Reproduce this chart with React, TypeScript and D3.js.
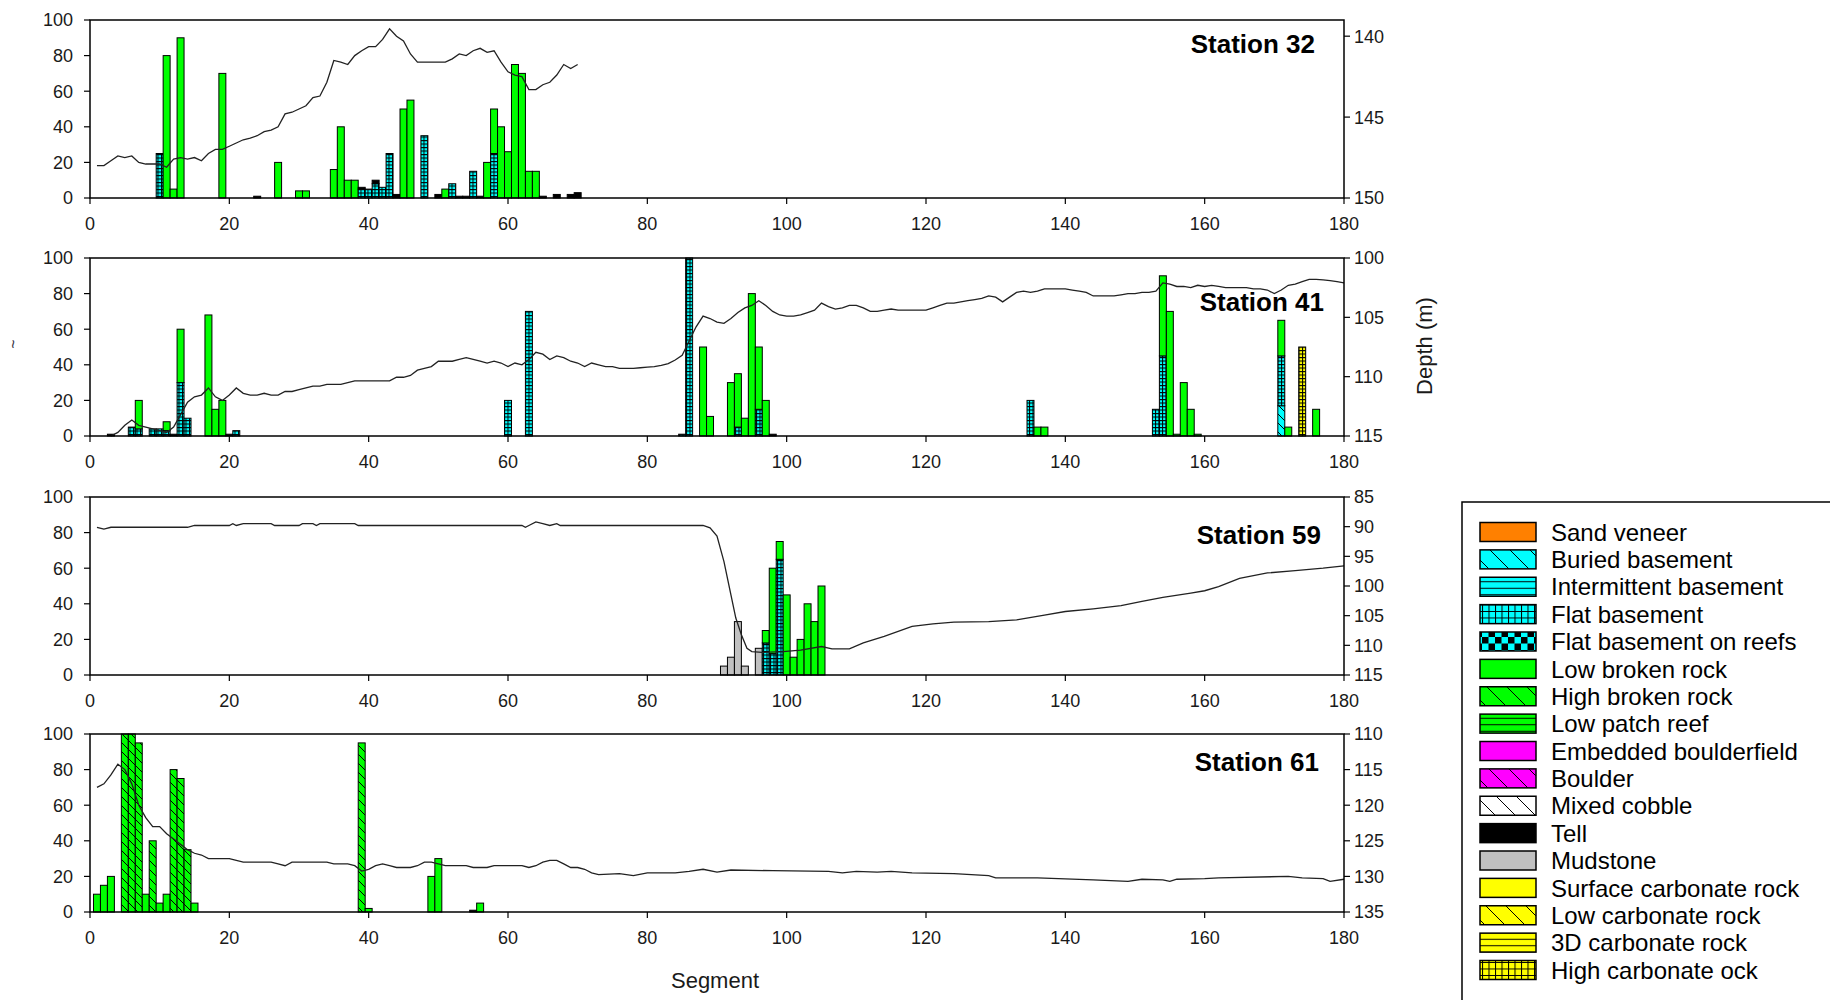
import React from 'react';
import * as d3 from 'd3';

// ---------- DATA ----------
const categoryNames = [
  'Sand veneer', 'Buried basement', 'Intermittent basement', 'Flat basement',
  'Flat basement on reefs', 'Low broken rock', 'High broken rock', 'Low patch reef',
  'Embedded boulderfield', 'Boulder', 'Mixed cobble', 'Tell', 'Mudstone',
  'Surface carbonate rock', 'Low carbonate rock', '3D carbonate rock', 'High carbonate ock',
];
const categoryKeys = [
  'sand', 'buried', 'intermit', 'flat', 'flatReef', 'lbr', 'hbr', 'lpr',
  'emb', 'boulder', 'cobble', 'tell', 'mud', 'scr', 'lcr', 'c3d', 'hcr',
];

const segmentTicks = [0, 20, 40, 60, 80, 100, 120, 140, 160, 180];
const percentTicks = [0, 20, 40, 60, 80, 100];

type Bar = [number, string, number];
type Pt = [number, number];

const st32Bars: Bar[] = [
  [10, 'flat', 25], [11, 'lbr', 80], [12, 'lbr', 5], [13, 'lbr', 90], [19, 'lbr', 70],
  [24, 'tell', 1], [27, 'lbr', 20], [30, 'lbr', 4], [31, 'lbr', 4], [35, 'lbr', 16],
  [36, 'lbr', 40], [37, 'lbr', 10], [38, 'lbr', 10], [39, 'flat', 5], [39, 'tell', 1],
  [40, 'flat', 5], [41, 'flat', 8], [41, 'tell', 2], [42, 'flat', 6], [43, 'flat', 25],
  [44, 'tell', 2], [45, 'lbr', 50], [46, 'lbr', 55], [48, 'flat', 35], [50, 'tell', 2],
  [51, 'lbr', 5], [52, 'flat', 8], [53, 'tell', 1], [54, 'tell', 1], [55, 'flat', 15],
  [56, 'tell', 1], [57, 'lbr', 20], [58, 'flat', 25], [58, 'lbr', 25], [59, 'lbr', 40],
  [60, 'lbr', 26], [61, 'lbr', 75], [62, 'lbr', 70], [63, 'lbr', 15], [64, 'lbr', 15],
  [65, 'tell', 1], [67, 'tell', 2], [69, 'tell', 2], [70, 'tell', 3],
];
const st32Depth: Pt[] = [
  [1, 148.0], [2, 148.0], [3, 147.7], [4, 147.4], [5, 147.5], [6, 147.4], [7, 147.8], [8, 147.9],
  [9, 147.9], [10, 147.9], [11, 148.1], [12, 147.6], [13, 147.5], [14, 147.6], [15, 147.5],
  [16, 147.7], [17, 147.25], [18, 147.0], [19, 147.0], [20, 146.8], [21, 146.6], [22, 146.4],
  [23, 146.3], [24, 146.15], [25, 145.9], [26, 145.8], [27, 145.6], [28, 144.8], [29, 144.7],
  [30, 144.5], [31, 144.3], [32, 143.8], [33, 143.7], [34, 142.85], [35, 141.5], [36, 141.6],
  [37, 141.75], [38, 141.2], [39, 140.9], [40, 140.65], [41, 140.65], [42, 140.2], [43, 139.55],
  [44, 140.0], [45, 140.3], [46, 141.1], [47, 141.6], [48, 141.6], [49, 141.6], [50, 141.6],
  [51, 141.6], [52, 141.4], [53, 141.1], [54, 141.2], [55, 140.9], [56, 140.75], [57, 141.0],
  [58, 140.9], [59, 141.6], [60, 142.2], [61, 142.4], [62, 142.5], [63, 143.3], [64, 143.3],
  [65, 143.0], [66, 142.85], [67, 142.4], [68, 141.75], [69, 142.0], [70, 141.75],
];
const st32DepthTicks = [140, 145, 150];

const st41Bars: Bar[] = [
  [3, 'tell', 1], [6, 'flat', 5], [7, 'flat', 4], [7, 'lbr', 16], [9, 'flat', 4], [10, 'flat', 4],
  [11, 'flat', 3], [11, 'lbr', 5], [12, 'tell', 1], [13, 'flat', 30], [13, 'lbr', 30],
  [14, 'flat', 10], [17, 'lbr', 68], [18, 'lbr', 15], [19, 'lbr', 20], [20, 'tell', 1],
  [21, 'flat', 3], [60, 'flat', 20], [63, 'flat', 70], [85, 'flat', 1], [86, 'flat', 100],
  [88, 'lbr', 50], [89, 'lbr', 11], [92, 'lbr', 30], [93, 'flat', 5], [93, 'lbr', 30],
  [94, 'lbr', 10], [95, 'lbr', 80], [96, 'flat', 15], [96, 'lbr', 35], [97, 'lbr', 20],
  [98, 'tell', 1], [135, 'flat', 20], [136, 'lbr', 5], [137, 'lbr', 5], [153, 'flat', 15],
  [154, 'flat', 45], [154, 'lbr', 45], [155, 'lbr', 70], [156, 'lbr', 1], [157, 'lbr', 30],
  [158, 'lbr', 15], [159, 'lbr', 1], [171, 'buried', 17], [171, 'flat', 28], [171, 'lbr', 20],
  [172, 'lbr', 5], [174, 'hcr', 50], [176, 'lbr', 15],
];
const st41Depth: Pt[] = [
  [3, 115.0], [4, 114.7], [5, 114.1], [6, 113.65], [7, 114.1], [8, 114.25], [9, 114.4], [10, 114.55],
  [11, 114.7], [12, 114.25], [13, 113.2], [14, 112.15], [15, 111.7], [16, 111.55], [17, 110.95],
  [18, 111.7], [19, 112.0], [20, 111.55], [21, 110.95], [22, 111.4], [23, 111.55], [24, 111.55],
  [25, 111.4], [26, 111.55], [27, 111.55], [28, 111.25], [29, 111.25], [30, 111.1], [31, 110.95],
  [32, 110.8], [33, 110.8], [34, 110.65], [35, 110.65], [36, 110.65], [37, 110.5], [38, 110.35],
  [43, 110.35], [44, 110.05], [45, 110.05], [46, 109.9], [47, 109.45], [48, 109.3], [49, 109.15],
  [50, 108.7], [52, 108.7], [53, 108.55], [54, 108.4], [55, 108.55], [56, 108.7], [57, 108.85],
  [58, 108.7], [59, 108.85], [60, 109.15], [61, 108.85], [62, 109.0], [63, 108.55], [64, 107.95],
  [65, 108.1], [66, 108.55], [67, 108.25], [68, 108.4], [69, 108.7], [70, 108.85], [71, 109.15],
  [72, 108.85], [73, 109.0], [74, 109.15], [75, 109.15], [76, 109.3], [78, 109.3], [79, 109.25],
  [80, 109.2], [81, 109.15], [82, 109.05], [83, 108.9], [84, 108.6], [85, 108.2], [86, 107.0],
  [87, 105.8], [88, 104.9], [89, 105.1], [90, 105.4], [91, 105.5], [92, 105.1], [93, 104.6],
  [94, 104.2], [95, 104.0], [96, 103.6], [97, 104.0], [98, 104.5], [99, 104.8], [100, 104.9],
  [101, 104.9], [102, 104.8], [103, 104.6], [104, 104.4], [105, 103.8], [106, 104.1], [107, 104.3],
  [108, 104.2], [109, 104.0], [110, 104.0], [111, 104.2], [112, 104.5], [113, 104.5], [114, 104.4],
  [115, 104.3], [116, 104.4], [120, 104.4], [121, 104.2], [122, 104.0], [123, 103.8], [124, 103.8],
  [125, 103.7], [126, 103.6], [127, 103.5], [128, 103.4], [129, 103.2], [130, 103.3], [131, 103.7],
  [132, 103.3], [133, 102.9], [134, 102.8], [135, 102.9], [136, 102.8], [137, 102.6], [140, 102.6],
  [141, 102.7], [142, 102.8], [143, 102.9], [144, 103.2], [147, 103.2], [148, 103.1], [149, 103.0],
  [150, 103.0], [151, 102.9], [152, 102.9], [153, 102.8], [154, 102.1], [155, 102.2], [156, 102.4],
  [157, 102.4], [158, 102.5], [159, 102.3], [160, 102.4], [161, 102.3], [162, 102.4], [163, 102.5],
  [166, 102.5], [167, 102.6], [168, 102.6], [169, 102.7], [170, 103.0], [171, 102.7], [172, 102.3],
  [173, 102.2], [174, 102.0], [175, 101.8], [176, 101.8], [177, 101.85], [178, 101.9], [179, 102.0],
  [180, 102.1],
];
const st41DepthTicks = [100, 105, 110, 115];

const st59Bars: Bar[] = [
  [91, 'mud', 5], [92, 'mud', 10], [93, 'mud', 30], [94, 'mud', 5], [96, 'mud', 15],
  [97, 'flat', 18], [97, 'lbr', 7], [98, 'flat', 12], [98, 'lbr', 48], [99, 'flat', 65],
  [99, 'lbr', 10], [100, 'lbr', 45], [101, 'lbr', 10], [102, 'lbr', 20], [103, 'lbr', 40],
  [104, 'lbr', 30], [105, 'lbr', 50],
];
const st59Depth: Pt[] = [
  [1, 90.1], [2, 90.4], [3, 90.1], [14, 90.1], [15, 89.8], [20, 89.8], [20.5, 89.5], [21, 89.8],
  [22, 89.5], [26, 89.5], [26.5, 89.8], [30, 89.8], [30.5, 89.5], [32, 89.5], [32.5, 89.8],
  [33, 89.5], [38, 89.5], [38.5, 89.8], [62, 89.8], [62.5, 90.1], [63, 89.8], [64, 89.2],
  [65, 89.5], [66, 89.8], [67, 89.5], [67.5, 89.8], [88, 89.8], [89, 90.2], [90, 91.6],
  [91, 95.9], [92, 101.5], [92.7, 105.4], [93.5, 108.2], [94.3, 110.5], [95, 111.05],
  [96.5, 111.2], [99.5, 111.05], [102, 110.8], [105, 110.2], [106.5, 110.6], [109, 110.6],
  [111, 109.6], [114, 108.5], [118, 106.8], [121, 106.4], [124, 106.1], [129, 106.0],
  [133, 105.7], [137, 104.9], [140, 104.3], [144, 103.85], [148, 103.3], [151, 102.6],
  [154, 101.9], [158, 101.2], [160, 100.8], [162, 100.1], [165, 98.7], [169, 97.8],
  [173, 97.4], [177, 97.0], [180, 96.6],
];
const st59DepthTicks = [85, 90, 95, 100, 105, 110, 115];

const st61Bars: Bar[] = [
  [1, 'lbr', 10], [2, 'lbr', 15], [3, 'lbr', 20], [5, 'hbr', 100], [6, 'hbr', 100],
  [7, 'hbr', 95], [8, 'lbr', 10], [9, 'hbr', 40], [10, 'lbr', 5], [11, 'lbr', 10],
  [12, 'hbr', 80], [13, 'hbr', 75], [14, 'hbr', 35], [15, 'lbr', 5], [39, 'hbr', 95],
  [40, 'lbr', 2], [49, 'lbr', 20], [50, 'lbr', 30], [55, 'tell', 1], [56, 'lbr', 5],
];
const st61Depth: Pt[] = [
  [1, 117.5], [2, 117.0], [3, 115.75], [4, 114.25], [5, 115.0], [6, 117.0], [7, 120.0],
  [8, 121.75], [9, 123.0], [10, 123.0], [11, 124.0], [12, 124.75], [13, 125.5], [14, 126.25],
  [15, 126.75], [16, 127.0], [17, 127.5], [20, 127.5], [21, 127.75], [22, 128.0], [26, 128.0],
  [27, 128.25], [28, 128.5], [29, 128.0], [34, 128.0], [35, 128.25], [37, 128.25], [38, 128.5],
  [39, 129.25], [40, 129.0], [41, 128.5], [42, 128.25], [43, 128.5], [44, 128.75], [46, 128.75],
  [47, 128.5], [48, 128.0], [49, 128.0], [50, 128.25], [51, 128.5], [54, 128.5], [55, 128.75],
  [57, 128.75], [58, 128.5], [62, 128.5], [63, 128.75], [64, 128.5], [65, 128.0], [66, 127.75],
  [67, 127.75], [68, 128.25], [69, 128.75], [70, 128.75], [71, 129.0], [72, 129.5], [73, 129.75],
  [76, 129.6], [78, 129.9], [80, 129.5], [84, 129.5], [86, 129.3], [88, 129.0], [90, 129.4],
  [92, 129.1], [98, 129.2], [106, 129.3], [108, 129.5], [110, 129.3], [113, 129.4], [115, 129.3],
  [118, 129.5], [124, 129.6], [129, 129.9], [130, 130.2], [136, 130.2], [144, 130.5],
  [149, 130.7], [151, 130.4], [154, 130.5], [155, 130.7], [156, 130.4], [160, 130.3],
  [162, 130.2], [172, 130.0], [174, 130.2], [177, 130.3], [178, 130.7], [180, 130.4],
];
const st61DepthTicks = [110, 115, 120, 125, 130, 135];

const stations = [
  { name: 'Station 32', bars: st32Bars, depth: st32Depth, depthTicks: st32DepthTicks, depthDomain: [139, 150] },
  { name: 'Station 41', bars: st41Bars, depth: st41Depth, depthTicks: st41DepthTicks, depthDomain: [100, 115] },
  { name: 'Station 59', bars: st59Bars, depth: st59Depth, depthTicks: st59DepthTicks, depthDomain: [85, 115] },
  { name: 'Station 61', bars: st61Bars, depth: st61Depth, depthTicks: st61DepthTicks, depthDomain: [110, 135] },
];

// ---------- STYLE / LAYOUT ----------
const W = 1830;
const H = 1000;
const X0 = 90;
const X1 = 1344;
const panelTops = [20, 258, 497, 734];
const PH = 178;
const titlePos = [
  { x: 1315, dy: 33 }, { x: 1324, dy: 53 }, { x: 1321, dy: 47 }, { x: 1319, dy: 37 },
];
const FONT = "'Liberation Sans', Arial, sans-serif";

const catStyle: Record<string, { color: string; kind: string }> = {
  sand: { color: '#FF8000', kind: 'solid' },
  buried: { color: '#00FFFF', kind: 'diag' },
  intermit: { color: '#00FFFF', kind: 'hline' },
  flat: { color: '#00FFFF', kind: 'grid' },
  flatReef: { color: '#00FFFF', kind: 'checker' },
  lbr: { color: '#00FF00', kind: 'solid' },
  hbr: { color: '#00FF00', kind: 'diag' },
  lpr: { color: '#00FF00', kind: 'hline' },
  emb: { color: '#FF00FF', kind: 'solid' },
  boulder: { color: '#FF00FF', kind: 'diag' },
  cobble: { color: '#FFFFFF', kind: 'diag' },
  tell: { color: '#000000', kind: 'solid' },
  mud: { color: '#C0C0C0', kind: 'solid' },
  scr: { color: '#FFFF00', kind: 'solid' },
  lcr: { color: '#FFFF00', kind: 'diag' },
  c3d: { color: '#FFFF00', kind: 'hline' },
  hcr: { color: '#FFFF00', kind: 'grid' },
};

const sizes: Record<string, Record<string, number>> = {
  bar: { diag: 9, hline: 5, grid: 3.5, checker: 6 },
  leg: { diag: 20, hline: 6.5, grid: 6.5, checker: 13 },
};

function PatternDef({ id, color, kind, s }: { id: string; color: string; kind: string; s: number }) {
  const common = { stroke: '#000', strokeWidth: 1, fill: 'none' };
  let inner: React.ReactNode = null;
  if (kind === 'diag') {
    inner = <path d={`M0,0L${s},${s}M${-s / 2},${s / 2}L${s / 2},${(3 * s) / 2}M${s / 2},${-s / 2}L${(3 * s) / 2},${s / 2}`} {...common} />;
  } else if (kind === 'hline') {
    inner = <path d={`M0,${s / 2}H${s}`} {...common} />;
  } else if (kind === 'grid') {
    inner = <path d={`M0,0.5H${s}M0.5,0V${s}`} {...common} />;
  } else if (kind === 'checker') {
    inner = (
      <>
        <rect x={0} y={0} width={s / 2} height={s / 2} fill="#000" />
        <rect x={s / 2} y={s / 2} width={s / 2} height={s / 2} fill="#000" />
      </>
    );
  }
  return (
    <pattern id={id} patternUnits="userSpaceOnUse" width={s} height={s}>
      <rect x={0} y={0} width={s} height={s} fill={color} />
      {inner}
    </pattern>
  );
}

function fillFor(key: string, which: string) {
  const st = catStyle[key];
  return st.kind === 'solid' ? st.color : `url(#p-${which}-${key})`;
}

function Panel({ idx }: { idx: number }) {
  const st = stations[idx];
  const top = panelTops[idx];
  const bottom = top + PH;
  const x = d3.scaleLinear().domain([0, 180]).range([X0, X1]);
  const y = d3.scaleLinear().domain([0, 100]).range([bottom, top]);
  const yd = d3.scaleLinear().domain(st.depthDomain).range([top, bottom]);

  const cum = new Map<number, number>();
  const rects = st.bars.map(([seg, key, val], i) => {
    const base = cum.get(seg) ?? 0;
    cum.set(seg, base + val);
    return (
      <rect
        key={i}
        x={x(seg - 0.5)}
        width={x(seg + 0.5) - x(seg - 0.5)}
        y={y(base + val)}
        height={y(base) - y(base + val)}
        fill={fillFor(key, 'bar')}
        stroke="#000"
        strokeWidth={1}
      />
    );
  });

  const line = d3.line<Pt>().x((d) => x(d[0])).y((d) => yd(d[1]));
  const tp = titlePos[idx];

  return (
    <g>
      {rects}
      <path d={line(st.depth) || ''} fill="none" stroke="#222" strokeWidth={1.3} />
      <rect x={X0} y={top} width={X1 - X0} height={PH} fill="none" stroke="#000" strokeWidth={1.5} />
      {percentTicks.map((t) => (
        <g key={`l${t}`}>
          <line x1={X0 - 6} x2={X0} y1={y(t)} y2={y(t)} stroke="#000" strokeWidth={1.2} />
          <text x={X0 - 17} y={y(t)} dy="0.36em" textAnchor="end" fontSize={18} fontFamily={FONT} fill="#1a1a1a">{t}</text>
        </g>
      ))}
      {segmentTicks.map((t) => (
        <g key={`b${t}`}>
          <line x1={x(t)} x2={x(t)} y1={bottom} y2={bottom + 6} stroke="#000" strokeWidth={1.2} />
          <text x={x(t)} y={bottom + 32} textAnchor="middle" fontSize={18} fontFamily={FONT} fill="#1a1a1a">{t}</text>
        </g>
      ))}
      {st.depthTicks.map((t) => (
        <g key={`r${t}`}>
          <line x1={X1} x2={X1 + 6} y1={yd(t)} y2={yd(t)} stroke="#000" strokeWidth={1.2} />
          <text x={X1 + 10} y={yd(t)} dy="0.36em" textAnchor="start" fontSize={18} fontFamily={FONT} fill="#1a1a1a">{t}</text>
        </g>
      ))}
      <text x={tp.x} y={top + tp.dy} textAnchor="end" fontSize={26} fontWeight="bold" fontFamily={FONT} fill="#000">{st.name}</text>
    </g>
  );
}

export default function App() {
  const legX = 1462;
  const legY = 502;
  const rowY = d3.scaleLinear().domain([0, categoryKeys.length - 1]).range([532, 970]);
  return (
    <svg width={W} height={H} style={{ position: 'absolute', left: 0, top: 0, background: '#fff' }}>
      <defs>
        {categoryKeys.filter((k) => catStyle[k].kind !== 'solid').flatMap((k) =>
          ['bar', 'leg'].map((w) => (
            <PatternDef key={`${w}-${k}`} id={`p-${w}-${k}`} color={catStyle[k].color} kind={catStyle[k].kind} s={sizes[w][catStyle[k].kind]} />
          ))
        )}
      </defs>
      <rect x={0} y={0} width={W} height={H} fill="#fff" />
      {stations.map((_, i) => <Panel key={i} idx={i} />)}
      <text transform="translate(1432,346) rotate(-90)" textAnchor="middle" fontSize={22} fontFamily={FONT} fill="#1a1a1a">Depth (m)</text>
      <text x={715} y={988} textAnchor="middle" fontSize={22} fontFamily={FONT} fill="#1a1a1a">Segment</text>
      <text transform="translate(19,344) rotate(-90)" textAnchor="middle" fontSize={16} fontFamily={FONT} fill="#334">~</text>
      <rect x={legX} y={legY} width={W - legX + 10} height={H - legY + 10} fill="#fff" stroke="#000" strokeWidth={1.5} />
      {categoryKeys.map((k, i) => (
        <g key={k}>
          <rect x={1480} y={rowY(i) - 9.5} width={56} height={19} fill={fillFor(k, 'leg')} stroke="#000" strokeWidth={1.5} />
          <text x={1551} y={rowY(i)} dy="0.36em" fontSize={24} fontFamily={FONT} fill="#000">{categoryNames[i]}</text>
        </g>
      ))}
    </svg>
  );
}
